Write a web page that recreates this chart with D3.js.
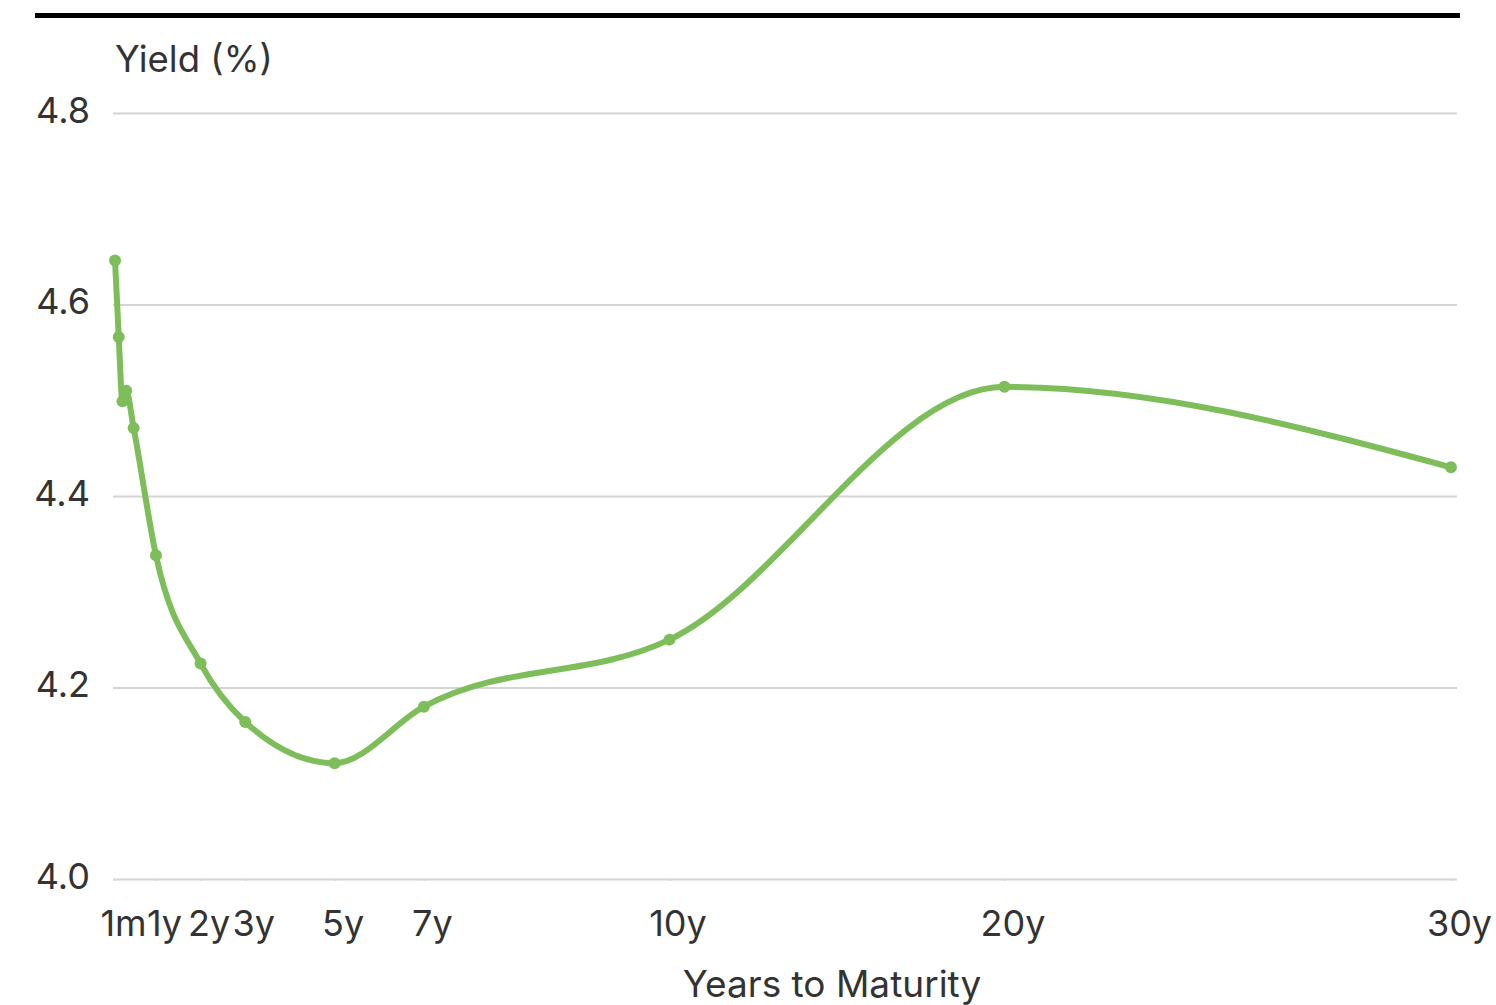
<!DOCTYPE html>
<head>
  <title>Yield Curve</title>
  <style>
    body { margin: 0; background: #fff; }
    text { font-family: Inter, "Noto Sans", sans-serif; fill: #333; }
    .grid line { stroke: #d4d4d4; stroke-width: 2; }
    .xaxis line { stroke: #dadada; stroke-width: 2; }
  </style>
</head>
<body>
  <script src="https://cdn.jsdelivr.net/npm/d3@7"></script>
  <script>
    // maturities as placed on the x axis (years); the 10y point sits at ~12.5 in the source
    var maturity = [1/12, 2/12, 3/12, 4/12, 6/12, 1, 2, 3, 5, 7, 12.5, 20, 30];
    var yieldPct = [4.646, 4.566, 4.499, 4.510, 4.471, 4.338, 4.225, 4.164, 4.121, 4.180, 4.250, 4.514, 4.430];

    var tickPos = [1/12, 1, 2, 3, 5, 7, 12.5, 20, 30];
    var tickLabels = ["1m", "1y", "2y", "3y", "5y", "7y", "10y", "20y", "30y"];
    var yTicks = [4.0, 4.2, 4.4, 4.6, 4.8];

    var data = maturity.map(function(m, i) { return {m: m, v: yieldPct[i]}; });

    var W = 1496, H = 1005;
    var x = d3.scaleLinear().domain([0, 30]).range([111.3, 1451]);
    var y = d3.scaleLinear().domain([4.0, 4.8]).range([879, 113]);

    var svg = d3.select("body").append("svg")
        .attr("width", W)
        .attr("height", H);

    // top rule
    svg.append("rect")
        .attr("x", 35).attr("y", 13)
        .attr("width", 1425).attr("height", 5)
        .attr("fill", "#000");

    // y axis with gridlines
    var gy = svg.append("g")
        .attr("class", "grid")
        .attr("transform", "translate(113,0)")
        .call(d3.axisLeft(y).tickValues(yTicks).tickFormat(d3.format(".1f"))
              .tickSize(-1344).tickPadding(23));
    gy.select(".domain").remove();
    gy.selectAll("text")
        .attr("dy", "9")
        .style("font-size", "36px");

    // x axis
    var gx = svg.append("g")
        .attr("class", "xaxis")
        .attr("transform", "translate(0,879)")
        .call(d3.axisBottom(x).tickValues(tickPos)
              .tickFormat(function(d, i) { return tickLabels[i]; })
              .tickSize(2));
    gx.select(".domain").remove();
    gx.selectAll("text")
        .attr("y", 57)
        .attr("dy", null)
        .attr("dx", 8)
        .style("font-size", "36px");

    // axis titles
    svg.append("text")
        .attr("x", 115).attr("y", 72)
        .style("font-size", "36.5px")
        .text("Yield (%)");

    svg.append("text")
        .attr("x", 832).attr("y", 997)
        .attr("text-anchor", "middle")
        .style("font-size", "37px")
        .text("Years to Maturity");

    // curve
    var line = d3.line()
        .x(function(d) { return x(d.m); })
        .y(function(d) { return y(d.v); })
        .curve(d3.curveMonotoneX);

    svg.append("path")
        .datum(data)
        .attr("fill", "none")
        .attr("stroke", "#7dbe5b")
        .attr("stroke-width", 6)
        .attr("stroke-linejoin", "round")
        .attr("d", line);

    svg.selectAll(".dot")
        .data(data)
      .enter().append("circle")
        .attr("class", "dot")
        .attr("cx", function(d) { return x(d.m); })
        .attr("cy", function(d) { return y(d.v); })
        .attr("r", 6)
        .attr("fill", "#7dbe5b");
  </script>
</body>
